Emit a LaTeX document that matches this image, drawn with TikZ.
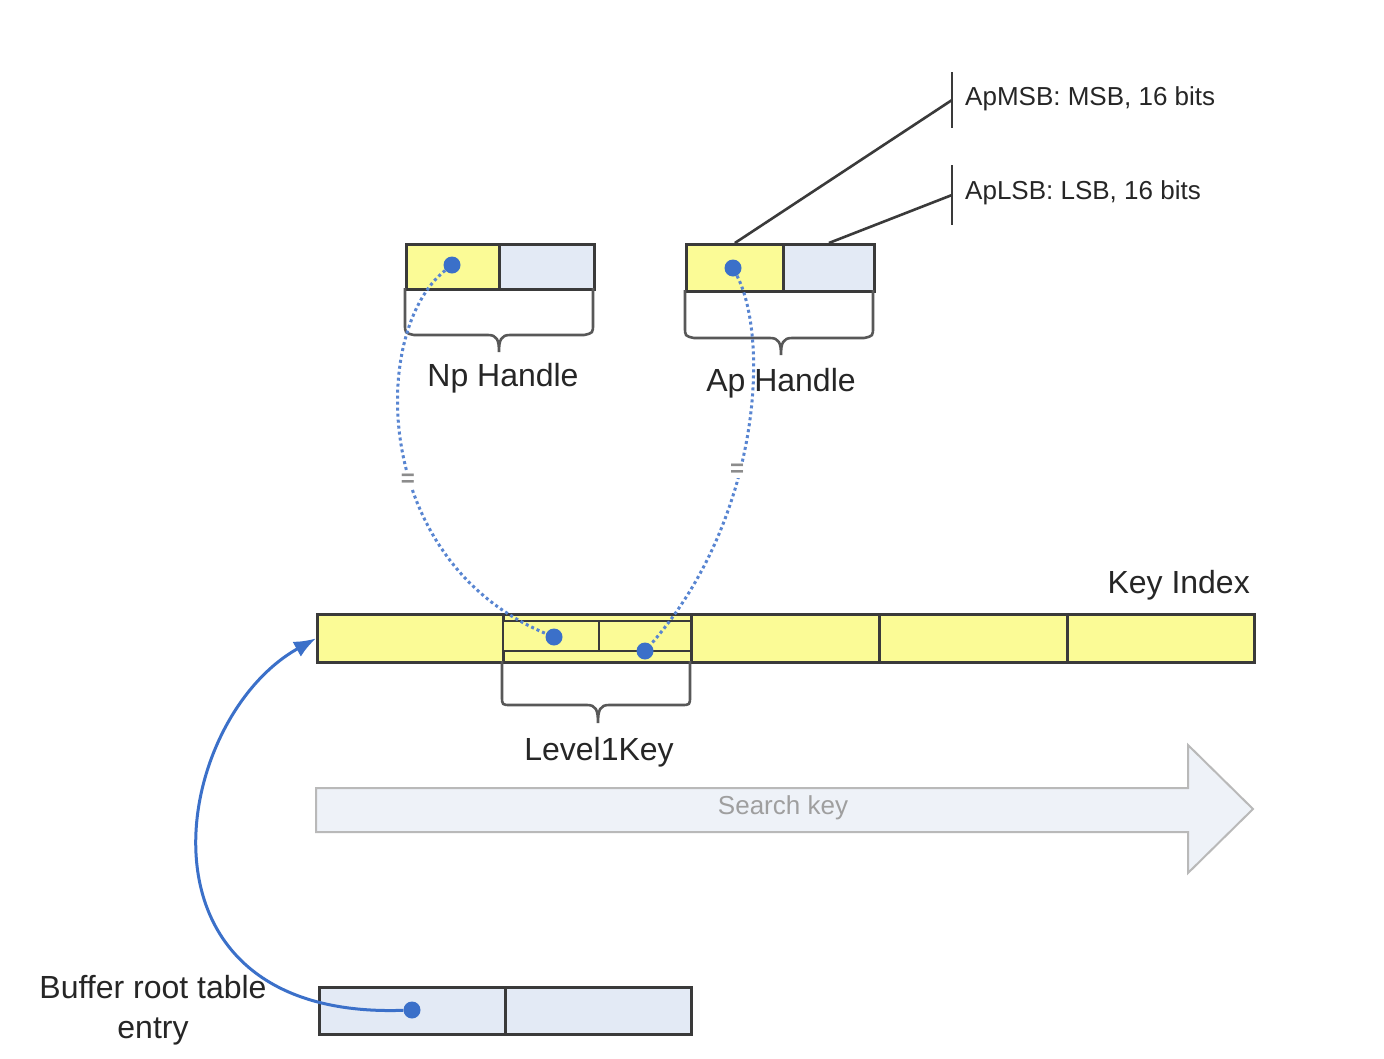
\documentclass[tikz,border=0pt]{standalone}
\usepackage{fontspec}
\setmainfont{Liberation Sans}
\usetikzlibrary{arrows.meta}
\definecolor{cyel}{HTML}{FBFB96}
\definecolor{cblu}{HTML}{E3EAF5}
\definecolor{csk}{HTML}{EEF2F8}
\definecolor{cdot}{HTML}{3B70C9}
\definecolor{cln}{HTML}{3A3A3A}
\begin{document}
\begin{tikzpicture}[x=1pt,y=-1pt,
  ycell/.style={draw=cln,line width=2.8pt,fill=cyel,inner sep=0pt,anchor=north west},
  bcell/.style={draw=cln,line width=2.8pt,fill=cblu,inner sep=0pt,anchor=north west},
  bracepath/.style={draw=cln!85,line width=2.6pt},
  dotnode/.style={circle,fill=cdot,inner sep=0pt,minimum size=17pt},
  dotlink/.style={draw=cdot!85,line width=3pt,dash pattern=on 3pt off 3pt},
  lbl/.style={font=\fontsize{32}{38}\selectfont,text=black!85,inner sep=0pt},
  slbl/.style={font=\fontsize{26}{30}\selectfont,text=black!85,inner sep=0pt,anchor=west},
  eqmark/.style={fill=white,text=gray!90,font=\fontsize{24}{24}\selectfont\bfseries,inner sep=2pt},
  annot/.style={draw=cln,line width=2.6pt}
]
\useasboundingbox (0,0) rectangle (1384,1058);
\fill[white] (0,0) rectangle (1384,1058);

% ---- Np Handle ----
\node[ycell,minimum width=93pt,minimum height=45pt] (npA) at (405,243) {};
\node[bcell,minimum width=95pt,minimum height=45pt] (npB) at (498,243) {};
\draw[bracepath] (405,288) -- (405,324) .. controls (405,333) .. (414,335) -- (488,335) .. controls (497,335) and (499,340) .. (499,352) .. controls (499,340) and (501,335) .. (510,335) -- (584,335) .. controls (593,333) .. (593,324) -- (593,288);
\node[lbl] (nplbl) at (503,378) {Np Handle};
\node[dotnode] (npdot) at (452,265) {};

% ---- Ap Handle ----
\node[ycell,minimum width=97pt,minimum height=47pt] (apA) at (685,243) {};
\node[bcell,minimum width=91pt,minimum height=47pt] (apB) at (782,243) {};
\draw[bracepath] (685,290) -- (685,327) .. controls (685,336) .. (694,338) -- (770,338) .. controls (779,338) and (781,343) .. (781,355) .. controls (781,343) and (783,338) .. (792,338) -- (864,338) .. controls (873,336) .. (873,327) -- (873,290);
\node[lbl] (aplbl) at (781,383) {Ap Handle};
\node[dotnode] (apdot) at (733,268) {};

% ---- annotations ----
\coordinate (msbT) at (952,72);
\coordinate (msbB) at (952,128);
\coordinate (msbM) at (952,100);
\coordinate (lsbT) at (952,165);
\coordinate (lsbB) at (952,225);
\coordinate (lsbM) at (952,195);
\draw[annot] (msbT) -- (msbB);
\draw[annot] (lsbT) -- (lsbB);
\draw[annot] (apA.north) -- (msbM);
\draw[annot] (apB.north) -- (lsbM);
\node[slbl] (msblbl) at (965,99) {ApMSB: MSB, 16 bits};
\node[slbl] (lsblbl) at (965,193) {ApLSB: LSB, 16 bits};

% ---- Key index bar ----
\node[ycell,minimum width=186pt,minimum height=48pt] (k1) at (316,613) {};
\node[ycell,minimum width=188pt,minimum height=48pt] (k2) at (502,613) {};
\node[ycell,minimum width=188pt,minimum height=48pt] (k3) at (690,613) {};
\node[ycell,minimum width=188pt,minimum height=48pt] (k4) at (878,613) {};
\node[ycell,minimum width=187pt,minimum height=48pt] (k5) at (1066,613) {};
\node[ycell,minimum width=96pt,minimum height=30pt,line width=2.2pt] (l1a) at (502,620) {};
\node[ycell,minimum width=92pt,minimum height=30pt,line width=2.2pt] (l1b) at (598,620) {};
\node[lbl,anchor=east] (kilbl) at (1250,585) {Key Index};
\node[dotnode] (l1dota) at (554,637) {};
\node[dotnode] (l1dotb) at (645,651) {};

% Level1Key brace
\draw[bracepath] (502,661) -- (502,696) .. controls (502,705) .. (511,705) -- (587,705) .. controls (596,705) and (598,710) .. (598,723) .. controls (598,710) and (600,705) .. (609,705) -- (681,705) .. controls (690,705) .. (690,696) -- (690,661);
\node[lbl] (l1lbl) at (599,752) {Level1Key};

% dotted links
\draw[dotlink] (npdot) .. controls (370,330) and (370,560) .. (l1dota);
\draw[dotlink] (apdot) .. controls (770,340) and (760,520) .. (l1dotb);
\node[eqmark] (eq1) at (408,480) {=};
\node[eqmark] (eq2) at (737,470) {=};

% ---- Search key arrow ----
\draw[draw=gray!55,line width=2pt,fill=csk] (316,788) -- (1188,788) -- (1188,745) -- (1253,809) -- (1188,873) -- (1188,832) -- (316,832) -- cycle;
\node[font=\fontsize{26}{30}\selectfont,text=gray!75,inner sep=0pt] (sklbl) at (783,808) {Search key};

% ---- Buffer root table entry ----
\node[bcell,minimum width=186pt,minimum height=47pt] (br1) at (318,986) {};
\node[bcell,minimum width=186pt,minimum height=47pt] (br2) at (504,986) {};
\node[lbl,align=center,font=\fontsize{32}{40}\selectfont] (brlbl) at (153,1010) {Buffer root table\\entry};
\node[dotnode] (brdot) at (412,1010) {};
\draw[cdot,line width=3pt,-{Latex[length=22pt,width=17pt]}] (brdot) .. controls (120,1020) and (170,720) .. (k1.west);
\end{tikzpicture}
\end{document}
